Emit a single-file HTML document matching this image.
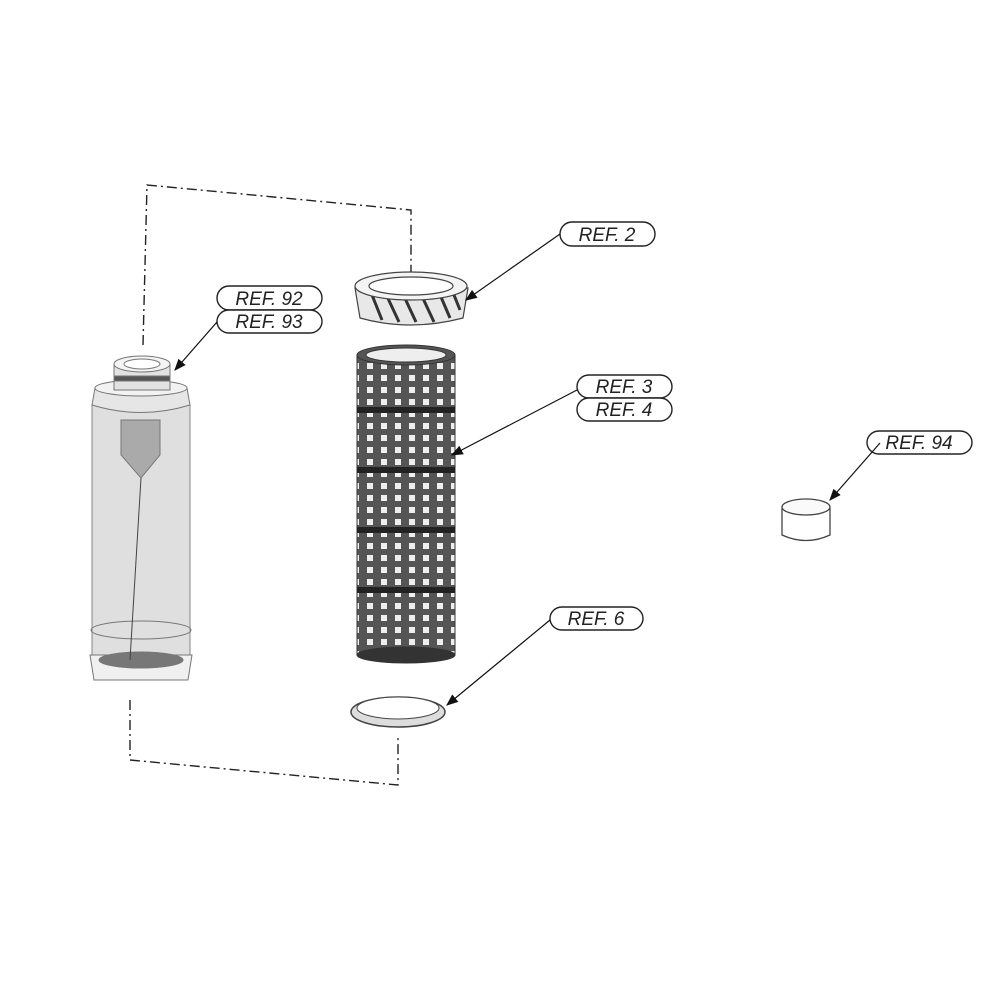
<!DOCTYPE html>
<html><head><style>body{margin:0;background:#fff}svg{display:block}text{font-family:"Liberation Sans",sans-serif;font-style:italic;font-size:19px;fill:#222;text-anchor:middle}</style></head><body>
<svg width="990" height="990" viewBox="0 0 990 990" xmlns="http://www.w3.org/2000/svg">
<defs>
<pattern id="scr" width="14" height="12" patternUnits="userSpaceOnUse"><rect width="14" height="12" fill="#555"/><rect x="3" y="3" width="6" height="6" fill="#eee"/></pattern>
<marker id="ar" markerWidth="10" markerHeight="8" refX="9" refY="4" orient="auto"><path d="M0,0L10,4L0,8z" fill="#111"/></marker>
</defs>
<g fill="none" stroke="#222" stroke-width="1.4" stroke-dasharray="10,4,2,4">
<path d="M143,345 L147,185 L411,210 L411,272"/>
<path d="M130,700 L130,760 L398,785 L398,735"/>
</g>
<g stroke="#777" stroke-width="1">
<rect x="92" y="405" width="98" height="260" fill="#dcdcdc" opacity="0.9"/>
<path d="M90,655 L192,655 L188,680 L94,680 Z" fill="#f0f0f0"/>
<ellipse cx="141" cy="660" rx="42" ry="8" fill="#777"/>
<ellipse cx="141" cy="630" rx="50" ry="9" fill="none"/>
<path d="M95,388 L187,388 L190,405 Q141,420 92,405 Z" fill="#e6e6e6"/>
<ellipse cx="141" cy="388" rx="46" ry="8" fill="#f2f2f2"/>
<rect x="114" y="365" width="56" height="25" fill="#e2e2e2"/>
<rect x="114" y="376" width="56" height="5" fill="#555"/>
<ellipse cx="142" cy="364" rx="28" ry="8" fill="#f4f4f4"/>
<ellipse cx="142" cy="364" rx="18" ry="5" fill="#fff"/>
<path d="M121,420 L160,420 L160,455 L141,478 L121,455 Z" fill="#aaa"/>
<line x1="141" y1="478" x2="130" y2="660" stroke="#444"/>
</g>
<g stroke="#444" stroke-width="1.2">
<path d="M355,288 L468,288 L463,318 Q410,332 360,318 Z" fill="#e8e8e8"/>
<path d="M370,290 l12,30 M385,292 l14,30 M402,292 l14,30 M420,292 l14,30 M438,290 l12,28 M452,290 l8,20" stroke="#333" stroke-width="3"/>
<ellipse cx="411" cy="286" rx="56" ry="14" fill="#f4f4f4"/>
<ellipse cx="411" cy="286" rx="42" ry="9" fill="#fff"/>
</g>
<g stroke="#333">
<rect x="357" y="355" width="98" height="300" fill="url(#scr)"/>
<path d="M357,410h98M357,470h98M357,530h98M357,590h98" stroke="#222" stroke-width="6"/>
<ellipse cx="406" cy="655" rx="49" ry="8" fill="#333"/>
<ellipse cx="406" cy="355" rx="49" ry="10" fill="#555"/>
<ellipse cx="406" cy="355" rx="40" ry="7" fill="#eee"/>
</g>
<ellipse cx="398" cy="712" rx="47" ry="15" fill="#ddd" stroke="#444" stroke-width="1.5"/>
<ellipse cx="398" cy="708" rx="41" ry="11" fill="#fff" stroke="#444"/>
<path d="M782,508 L782,535 Q806,546 830,535 L830,508" fill="#fff" stroke="#444" stroke-width="1.3"/>
<ellipse cx="806" cy="507" rx="24" ry="8" fill="#fafafa" stroke="#444" stroke-width="1.3"/>
<g fill="#fff" stroke="#222" stroke-width="1.4">
<rect x="560" y="222" width="95" height="24" rx="12"/>
<rect x="217" y="286" width="105" height="24" rx="12"/>
<rect x="217" y="310" width="105" height="23" rx="12"/>
<rect x="577" y="375" width="95" height="23" rx="12"/>
<rect x="577" y="398" width="95" height="23" rx="12"/>
<rect x="867" y="431" width="105" height="23" rx="12"/>
<rect x="550" y="607" width="93" height="23" rx="12"/>
</g>
<g stroke="#111" stroke-width="1.2" marker-end="url(#ar)">
<line x1="560" y1="234" x2="466" y2="300"/>
<line x1="217" y1="322" x2="175" y2="370"/>
<line x1="577" y1="390" x2="452" y2="455"/>
<line x1="880" y1="443" x2="830" y2="500"/>
<line x1="550" y1="620" x2="447" y2="705"/>
</g>
<text x="607" y="241">REF. 2</text>
<text x="269" y="305">REF. 92</text>
<text x="269" y="328">REF. 93</text>
<text x="624" y="393">REF. 3</text>
<text x="624" y="416">REF. 4</text>
<text x="919" y="449">REF. 94</text>
<text x="596" y="625">REF. 6</text>
</svg>
</body></html>
